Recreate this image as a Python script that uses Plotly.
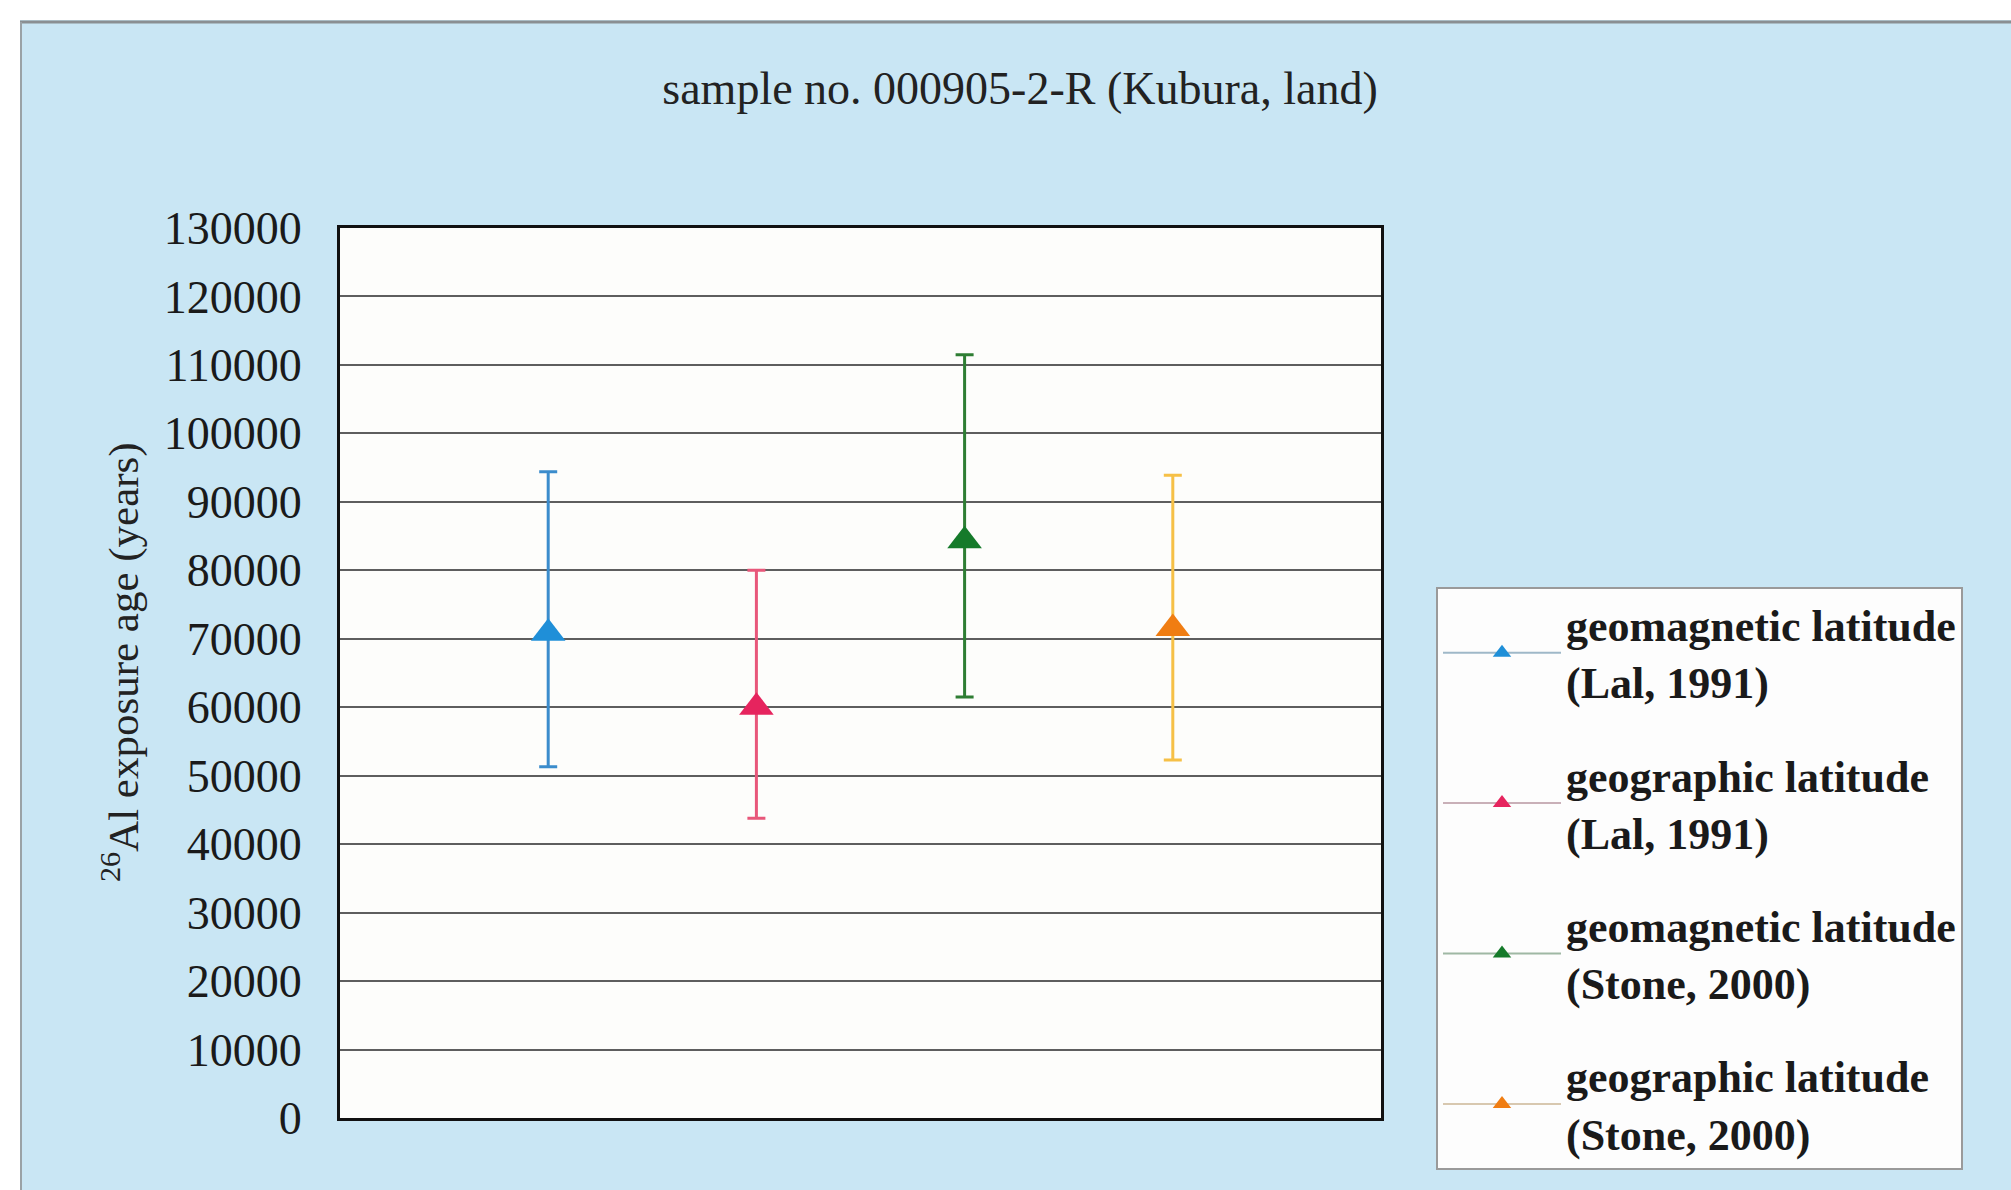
import plotly.graph_objects as go

# ---- data ----
series_names = [
    "geomagnetic latitude<br>(Lal, 1991)",
    "geographic latitude<br>(Lal, 1991)",
    "geomagnetic latitude<br>(Stone, 2000)",
    "geographic latitude<br>(Stone, 2000)",
]
x_pos = [1, 2, 3, 4]
ages = [70800, 60000, 84300, 71500]
err_upper = [94400, 80000, 111500, 93900]
err_lower = [51300, 43800, 61500, 52300]
y_ticks = [0, 10000, 20000, 30000, 40000, 50000, 60000, 70000, 80000, 90000,
           100000, 110000, 120000, 130000]
title_text = "sample no. 000905-2-R (Kubura, land)"
y_title_text = "<sup>26</sup>Al exposure age (years)"

marker_colors = ["#1f8fd8", "#e6245e", "#157a2a", "#f07d12"]
bar_colors = ["#3b8ccc", "#e8577a", "#2e7d33", "#f6c046"]
legend_line_colors = ["#9fb8c8", "#c9b0b8", "#9fb8a4", "#d8c8b0"]

W, H = 2011, 1190
L, R, T, B = 340, 1381, 228, 1118


def px(xp):
    return (xp - L) / (R - L)


def py(yp):
    return (B - yp) / (B - T)


fig = go.Figure()
for i in range(4):
    fig.add_trace(go.Scatter(
        x=[x_pos[i]], y=[ages[i]],
        mode="lines+markers",
        name=series_names[i],
        legendgroup=str(i),
        marker=dict(symbol="triangle-up", size=30, color=marker_colors[i]),
        line=dict(color=legend_line_colors[i], width=2),
        error_y=dict(type="data", symmetric=False,
                     array=[err_upper[i] - ages[i]],
                     arrayminus=[ages[i] - err_lower[i]],
                     color=bar_colors[i], thickness=3, width=9),
    ))

serif = "Liberation Serif, Times New Roman, serif"

shapes = [
    # white strip at top and left of the scanned page
    dict(type="rect", xref="paper", yref="paper", x0=px(0), x1=px(W), y0=py(0), y1=py(20),
         fillcolor="white", line=dict(width=0), layer="below"),
    dict(type="rect", xref="paper", yref="paper", x0=px(0), x1=px(20), y0=py(0), y1=py(H),
         fillcolor="white", line=dict(width=0), layer="below"),
    dict(type="line", xref="paper", yref="paper", x0=px(20), x1=px(W), y0=py(22), y1=py(22),
         line=dict(color="#8a8f92", width=3)),
    dict(type="line", xref="paper", yref="paper", x0=px(21), x1=px(21), y0=py(22), y1=py(H),
         line=dict(color="#9aa2a6", width=2)),
]

fig.update_layout(
    width=W, height=H,
    margin=dict(l=L, r=W - R, t=T, b=H - B, autoexpand=False),
    paper_bgcolor="#c9e6f4",
    plot_bgcolor="#fdfdfb",
    title=dict(text=title_text,
               x=1020 / W, xanchor="center", y=1 - 88 / H, yanchor="middle",
               font=dict(family=serif, size=46, color="#222")),
    xaxis=dict(range=[0, 5], showticklabels=False, showgrid=False, zeroline=False,
               showline=True, linecolor="#111", linewidth=3, mirror=True, ticks=""),
    yaxis=dict(range=[0, 130000], tickvals=y_ticks, ticktext=[str(v) for v in y_ticks],
               showgrid=True, gridcolor="#5e5e5e", gridwidth=2, zeroline=False,
               showline=True, linecolor="#111", linewidth=3, mirror=True,
               ticks="", ticklabelstandoff=26,
               tickfont=dict(family=serif, size=46, color="#1a1a1a")),
    annotations=[dict(text=y_title_text, textangle=-90, xref="paper", yref="paper",
                      x=px(120), y=py(662), xanchor="center", yanchor="middle",
                      showarrow=False,
                      font=dict(family=serif, size=43, color="#222"))],
    legend=dict(x=px(1436), y=py(587), xanchor="left", yanchor="top",
                bgcolor="#fdfdfd", bordercolor="#9a9a9a", borderwidth=2,
                font=dict(family=serif, size=44, color="#1a1a1a", weight="bold"),
                tracegroupgap=33, itemwidth=118),
    shapes=shapes,
    showlegend=True,
)

fig.write_html("out.html")
